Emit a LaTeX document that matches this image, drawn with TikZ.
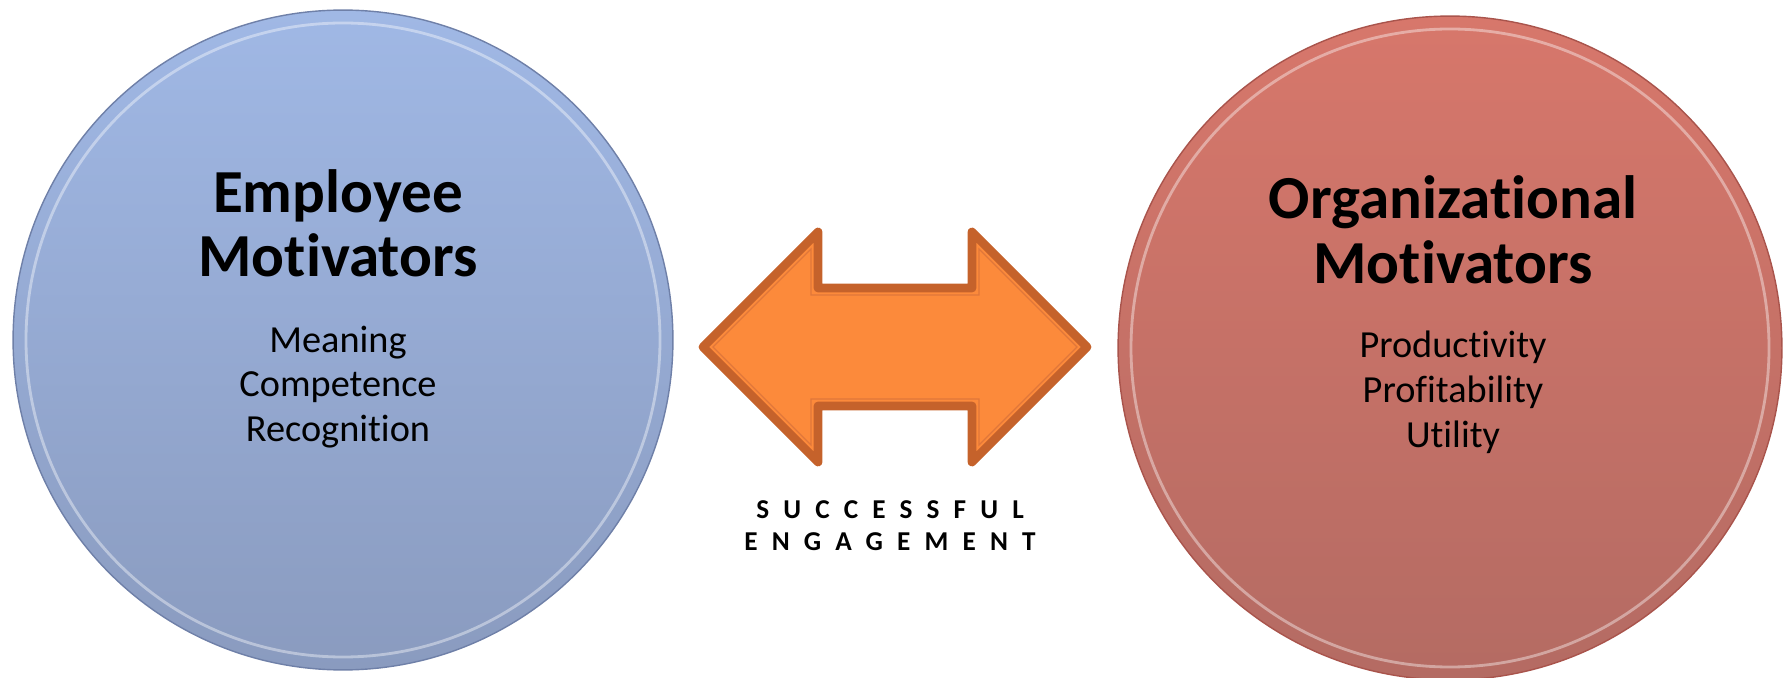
\documentclass[tikz,border=0pt]{standalone}
\usepackage{fontspec}
\setmainfont{Carlito}[Ligatures=NoCommon]

% colours of the two discs and the block arrow
\definecolor{empTop}{HTML}{A0B8E5}
\definecolor{empBot}{HTML}{8A9BBF}
\definecolor{empRim}{HTML}{6F80A8}
\definecolor{orgTop}{HTML}{D7776B}
\definecolor{orgBot}{HTML}{B46B63}
\definecolor{orgRim}{HTML}{A9544C}
\definecolor{arrFill}{HTML}{FC8A3B}
\definecolor{arrEdge}{HTML}{C5622B}
\definecolor{arrLine}{HTML}{E0773A}

\begin{document}
\begin{tikzpicture}[x=0.02cm, y=-0.02cm,
    disc/.style={circle, inner sep=0pt, line width=0.8pt},
    gleam/.style={white, opacity=0.4, line width=1.6pt},
    title/.style={font=\fontsize{34.8}{40}\selectfont\bfseries, anchor=base},
    item/.style={font=\fontsize{21.8}{25}\selectfont, anchor=base},
    tag/.style={font=\fontsize{15.5}{18}\selectfont\bfseries\addfontfeature{LetterSpace=52}, anchor=base}]

    \useasboundingbox (0,0) rectangle (1784,678);
    \clip (0,0) rectangle (1784,678);

    % left disc
    \node [disc, draw=empRim, top color=empTop, bottom color=empBot,
           minimum size=13.2cm] (emp) at (343,340) {};
    \draw [gleam] (emp.center) circle (317);

    % right disc
    \node [disc, draw=orgRim, top color=orgTop, bottom color=orgBot,
           minimum size=13.28cm] (org) at (1450,348) {};
    \draw [gleam] (org.center) circle (319);

    % texts on the discs
    \node [title] (emp-t1) at (338,213) {Employee};
    \node [title] (emp-t2) at (338,277) {Motivators};
    \foreach \txt [count=\i] in {Meaning, Competence, Recognition}{
        \node [item] (emp-\i) at (338, {353+44*(\i-1)}) {\txt};
    }

    \node [title] (org-t1) at (1453,219) {Organizational};
    \node [title] (org-t2) at (1453,284) {Motivators};
    \foreach \txt [count=\i] in {Productivity, Profitability, Utility}{
        \node [item] (org-\i) at (1453, {358+45*(\i-1)}) {\txt};
    }

    % double block arrow between the discs
    \draw [fill=arrFill, draw=arrEdge, line width=5pt, line join=round]
        (703,347) -- (818,232) -- (818,288) -- (972,288) -- (972,232)
        -- (1087,347) -- (972,462) -- (972,406) -- (818,406) -- (818,462) -- cycle;
    \draw [arrLine, line width=0.7pt]
        (713,347) -- (811,249) -- (811,295) -- (979,295) -- (979,249)
        -- (1077,347) -- (979,445) -- (979,399) -- (811,399) -- (811,445) -- cycle;

    \node [tag] (tag-1) at (890,518) {SUCCESSFUL};
    \node [tag] (tag-2) at (890,550) {ENGAGEMENT};

\end{tikzpicture}
\end{document}
